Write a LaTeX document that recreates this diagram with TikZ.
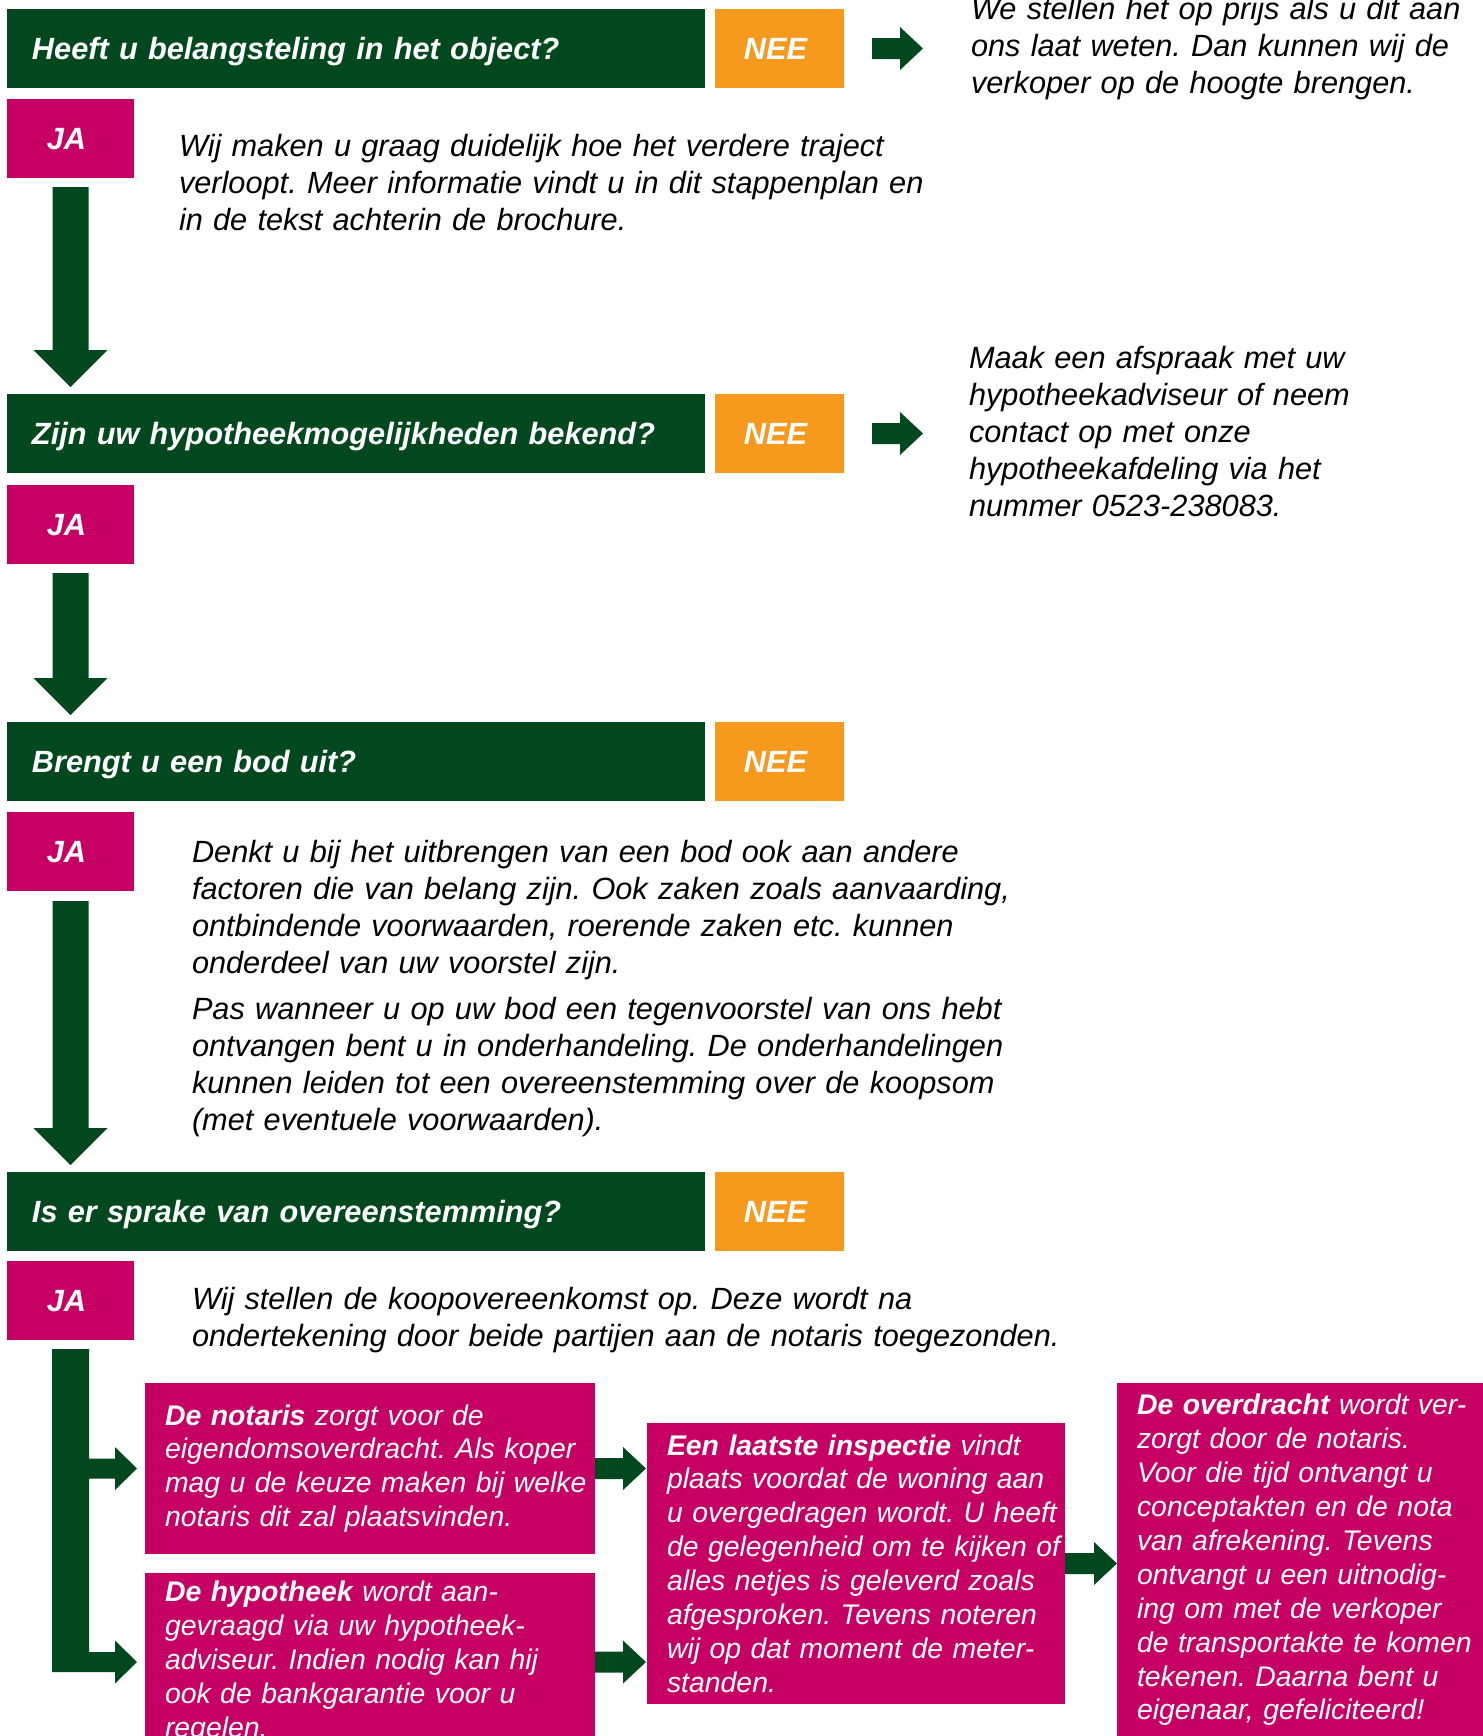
\documentclass[tikz,border=0pt]{standalone}
\usepackage{fontspec}
\setmainfont{Liberation Sans}
\usetikzlibrary{calc}
\definecolor{dkgreen}{RGB}{2,72,31}
\definecolor{neeorange}{RGB}{247,153,29}
\definecolor{jamagenta}{RGB}{199,0,99}
\newcommand\DownArr[2]{\fill[dkgreen] let \p1=(#1), \p2=(#2) in (\x1-9pt,\y1) -- (\x1+9pt,\y1) -- (\x1+9pt,\y2+18.5pt) -- (\x1+18.5pt,\y2+18.5pt) -- (\x1,\y2) -- (\x1-18.5pt,\y2+18.5pt) -- (\x1-9pt,\y2+18.5pt) -- cycle;}
\newcommand\RightArr[2]{\fill[dkgreen] let \p1=(#1), \p2=(#2) in (\x1,\y1+5.25pt) -- (\x2-11.5pt,\y1+5.25pt) -- (\x2-11.5pt,\y1+10.75pt) -- (\x2,\y1) -- (\x2-11.5pt,\y1-10.75pt) -- (\x2-11.5pt,\y1-5.25pt) -- (\x1,\y1-5.25pt) -- cycle;}
\newcommand\BoxPad{\leftskip=10pt\rightskip=-20pt plus 1fil\relax}
\begin{document}
\frenchspacing
\begin{tikzpicture}[x=0.5pt,y=-0.5pt,
  every node/.style={inner sep=0pt, outer sep=0pt},
  qbar/.style={fill=dkgreen, text=white, anchor=north west, minimum height=39.5pt,
    text width=324pt, inner xsep=12.5pt, align=left,
    font=\bfseries\itshape\fontsize{15.36pt}{18.35pt}\selectfont, text height=11pt, text depth=0pt},
  neebox/.style={fill=neeorange, text=white, anchor=north west, minimum width=64.5pt, minimum height=39.5pt,
    font=\bfseries\itshape\fontsize{15.36pt}{18.35pt}\selectfont, text height=11pt, text depth=0pt},
  jabox/.style={fill=jamagenta, text=white, anchor=north west, minimum width=63.5pt, minimum height=39.5pt,
    font=\bfseries\itshape\fontsize{15.36pt}{18.35pt}\selectfont, text height=11pt, text depth=0pt},
  bodytext/.style={anchor=base west, text width=480pt, align=left, text=black,
    font=\itshape\fontsize{15.36pt}{18.55pt}\selectfont},
  magbox/.style={fill=jamagenta, text=white, anchor=north west, align=left,
    font=\itshape\fontsize{14.2pt}{16.95pt}\selectfont}
]
\path[use as bounding box, clip] (0,0) rectangle (1483,1736);
\fill[white] (0,0) rectangle (1483,1736);

% step 1
\node[qbar] (q1) at (7,9) {Heeft u belangsteling in het object?};
\node[neebox] (nee1) at (715,9) {\hspace*{-4pt}NEE};
\node[jabox] (ja1) at (7,99) {\hspace*{-4pt}JA};
\node[bodytext] (t1) at (971,19) {We stellen het op prijs als u dit aan\\ons laat weten. Dan kunnen wij de\\verkoper op de hoogte brengen.};
\node[bodytext] (tja1) at (179,156) {Wij maken u graag duidelijk hoe het verdere traject\\verloopt. Meer informatie vindt u in dit stappenplan en\\in de tekst achterin de brochure.};

% step 2
\node[qbar] (q2) at (7,394) {Zijn uw hypotheekmogelijkheden bekend?};
\node[neebox] (nee2) at (715,394) {\hspace*{-4pt}NEE};
\node[jabox] (ja2) at (7,485) {\hspace*{-4pt}JA};
\node[bodytext] (t2) at (969,368) {Maak een afspraak met uw\\hypotheekadviseur of neem\\contact op met onze\\hypotheekafdeling via het\\nummer 0523-238083.};

% step 3
\node[qbar] (q3) at (7,722) {Brengt u een bod uit?};
\node[neebox] (nee3) at (715,722) {\hspace*{-4pt}NEE};
\node[jabox] (ja3) at (7,812) {\hspace*{-4pt}JA};
\node[bodytext] (tja3) at (192,862) {Denkt u bij het uitbrengen van een bod ook aan andere\\factoren die van belang zijn. Ook zaken zoals aanvaarding,\\ontbindende voorwaarden, roerende zaken etc. kunnen\\onderdeel van uw voorstel zijn.\\[4.5pt]Pas wanneer u op uw bod een tegenvoorstel van ons hebt\\ontvangen bent u in onderhandeling. De onderhandelingen\\kunnen leiden tot een overeenstemming over de koopsom\\(met eventuele voorwaarden).};

% step 4
\node[qbar] (q4) at (7,1172) {Is er sprake van overeenstemming?};
\node[neebox] (nee4) at (715,1172) {\hspace*{-4pt}NEE};
\node[jabox] (ja4) at (7,1261) {\hspace*{-4pt}JA};
\node[bodytext] (tja4) at (192,1309) {Wij stellen de koopovereenkomst op. Deze wordt na\\ondertekening door beide partijen aan de notaris toegezonden.};

% final boxes
\node[magbox, text width=225pt, minimum height=85.5pt] (notaris) at (145,1383)
  {\BoxPad\textbf{De notaris} zorgt voor de\\eigendomsoverdracht. Als koper\\mag u de keuze maken bij welke\\notaris dit zal plaatsvinden.\par};
\node[magbox, text width=225pt, minimum height=89pt] (hypotheek) at (145,1573)
  {\BoxPad\textbf{De hypotheek} wordt aan-\\gevraagd via uw hypotheek-\\adviseur. Indien nodig kan hij\\ook de bankgarantie voor u\\regelen.\par};
\node[magbox, text width=209pt, minimum height=140.5pt] (inspectie) at (647,1423)
  {\BoxPad\textbf{Een laatste inspectie} vindt\\plaats voordat de woning aan\\u overgedragen wordt. U heeft\\de gelegenheid om te kijken of\\alles netjes is geleverd zoals\\afgesproken. Tevens noteren\\wij op dat moment de meter-\\standen.\par};
\node[magbox, text width=183pt, minimum height=177pt] (overdracht) at (1117,1383)
  {\BoxPad\textbf{De overdracht} wordt ver-\\zorgt door de notaris.\\Voor die tijd ontvangt u\\conceptakten en de nota\\van afrekening. Tevens\\ontvangt u een uitnodig-\\ing om met de verkoper\\de transportakte te komen\\tekenen. Daarna bent u\\eigenaar, gefeliciteerd!\par};

% connectors
\RightArr{$(nee1.east)+(28,0)$}{$(nee1.east)+(79,0)$}
\RightArr{$(nee2.east)+(28,0)$}{$(nee2.east)+(79,0)$}
\DownArr{$(ja1.south)+(0,9)$}{$(ja1.south |- q2.north)+(0,-7)$}
\DownArr{$(ja2.south)+(0,9)$}{$(ja2.south |- q3.north)+(0,-7)$}
\DownArr{$(ja3.south)+(0,10)$}{$(ja3.south |- q4.north)+(0,-7)$}
\fill[dkgreen] let \p1=(ja4.south), \p2=(notaris.west), \p3=(hypotheek.west) in
  (\x1-9.25pt,\y1-4.5pt) -- (\x1+9.25pt,\y1-4.5pt) -- (\x1+9.25pt,\y2+5pt) -- (\x2-15pt,\y2+5pt)
  -- (\x2-15pt,\y2+10.75pt) -- (\x2-4pt,\y2) -- (\x2-15pt,\y2-10.75pt) -- (\x2-15pt,\y2-5pt)
  -- (\x1+9.25pt,\y2-5pt) -- (\x1+9.25pt,\y3+5pt) -- (\x3-15pt,\y3+5pt)
  -- (\x3-15pt,\y3+10.75pt) -- (\x3-4pt,\y3) -- (\x3-15pt,\y3-10.75pt) -- (\x3-15pt,\y3-5pt)
  -- (\x1-9.25pt,\y3-5pt) -- cycle;
\RightArr{notaris.east}{$(inspectie.west |- notaris.east)+(-1,0)$}
\RightArr{hypotheek.east}{$(inspectie.west |- hypotheek.east)+(-1,0)$}
\RightArr{inspectie.east}{overdracht.west |- inspectie.east}
\end{tikzpicture}
\end{document}
